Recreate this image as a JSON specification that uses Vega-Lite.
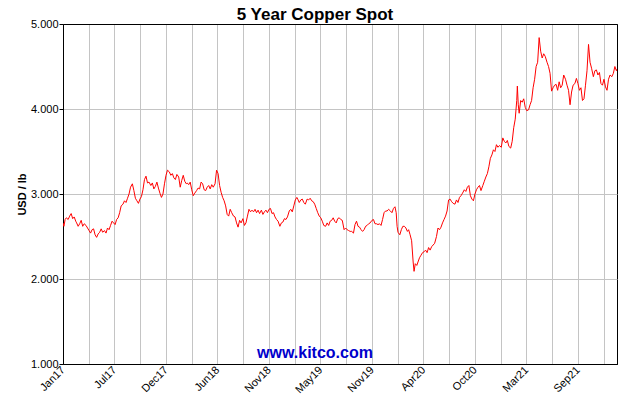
{
  "$schema": "https://vega.github.io/schema/vega-lite/v6.json",
  "width": 554,
  "height": 340,
  "autosize": "none",
  "padding": {"left": 63, "top": 24, "right": 13, "bottom": 36},
  "background": "white",
  "config": {"font": "Liberation Sans", "view": {"stroke": "black", "strokeWidth": 1}},
  "title": {"text": "5 Year Copper Spot", "font": "Liberation Sans", "fontSize": 17, "fontWeight": "bold", "anchor": "middle", "frame": "group", "dx": -25, "dy": 12, "offset": 6, "color": "black"},
  "encoding": {
    "x": {"field": "d", "type": "temporal",
      "scale": {"type": "utc", "domain": [1484611200000, 1642636800000]},
      "axis": {"title": null,
        "values": [1484611200000,1491955200000,1499299200000,1506643200000,1513987200000,1521331200000,1528675200000,1536019200000,1543363200000,1550707200000,1558051200000,1565395200000,1572739200000,1580083200000,1587427200000,1594771200000,1602115200000,1609459200000,1616803200000,1624147200000,1631491200000,1638835200000],
        "labelExpr": "(datum.value - 1484611200000) % 14688000000 == 0 ? utcFormat(datum.value, '%b%y') : ''",
        "labelAngle": -45, "labelAlign": "right", "labelBaseline": "middle",
        "grid": true,
        "gridColor": {"condition": {"test": "datum.value == 1484611200000", "value": "black"}, "value": "#c4c4c4"},
        "ticks": false, "domain": true, "domainColor": "black",
        "labelFont": "Liberation Sans", "labelFontSize": 11, "labelColor": "black", "labelPadding": 4,
        "labelOverlap": false, "labelFlush": false, "labelBound": false}},
    "y": {"field": "p", "type": "quantitative",
      "scale": {"domain": [1, 5], "nice": false, "zero": false},
      "axis": {"title": "USD / lb", "values": [1,2,3,4,5], "format": ".3f",
        "grid": true,
        "gridColor": {"condition": {"test": "datum.value == 1 || datum.value == 5", "value": "black"}, "value": "#c4c4c4"},
        "domain": true, "domainColor": "black", "tickColor": "black", "tickSize": 4,
        "labelFont": "Liberation Sans", "labelFontSize": 11, "labelColor": "black", "labelPadding": 1,
        "titleFont": "Liberation Sans", "titleFontSize": 11, "titleFontWeight": "bold", "titleColor": "black", "titlePadding": 3}}
  },
  "layer": [
    {
      "data": {"values": [
{"d":"2017-01-17","p":2.66},{"d":"2017-01-20","p":2.62},{"d":"2017-01-24","p":2.70},{"d":"2017-01-28","p":2.72},
{"d":"2017-02-03","p":2.70},{"d":"2017-02-08","p":2.74},{"d":"2017-02-13","p":2.77},{"d":"2017-02-18","p":2.71},{"d":"2017-02-23","p":2.73},{"d":"2017-02-28","p":2.68},
{"d":"2017-03-03","p":2.66},{"d":"2017-03-08","p":2.62},{"d":"2017-03-13","p":2.65},{"d":"2017-03-18","p":2.69},{"d":"2017-03-23","p":2.62},{"d":"2017-03-28","p":2.65},
{"d":"2017-04-03","p":2.63},{"d":"2017-04-08","p":2.60},{"d":"2017-04-13","p":2.57},{"d":"2017-04-18","p":2.54},{"d":"2017-04-23","p":2.58},{"d":"2017-04-28","p":2.59},
{"d":"2017-05-03","p":2.52},{"d":"2017-05-08","p":2.49},{"d":"2017-05-13","p":2.53},{"d":"2017-05-18","p":2.55},{"d":"2017-05-23","p":2.59},{"d":"2017-05-28","p":2.55},
{"d":"2017-06-03","p":2.57},{"d":"2017-06-08","p":2.54},{"d":"2017-06-13","p":2.60},{"d":"2017-06-18","p":2.58},{"d":"2017-06-23","p":2.63},{"d":"2017-06-28","p":2.68},
{"d":"2017-07-03","p":2.66},{"d":"2017-07-08","p":2.64},{"d":"2017-07-13","p":2.70},{"d":"2017-07-18","p":2.72},{"d":"2017-07-23","p":2.78},{"d":"2017-07-28","p":2.86},
{"d":"2017-08-03","p":2.88},{"d":"2017-08-08","p":2.92},{"d":"2017-08-13","p":2.90},{"d":"2017-08-18","p":2.95},{"d":"2017-08-23","p":3.00},{"d":"2017-08-28","p":3.08},
{"d":"2017-09-03","p":3.12},{"d":"2017-09-08","p":3.04},{"d":"2017-09-13","p":2.95},{"d":"2017-09-18","p":2.92},{"d":"2017-09-23","p":2.89},{"d":"2017-09-28","p":2.94},
{"d":"2017-10-03","p":2.97},{"d":"2017-10-08","p":3.05},{"d":"2017-10-13","p":3.17},{"d":"2017-10-18","p":3.21},{"d":"2017-10-23","p":3.13},{"d":"2017-10-28","p":3.14},
{"d":"2017-11-03","p":3.10},{"d":"2017-11-08","p":3.13},{"d":"2017-11-13","p":3.06},{"d":"2017-11-18","p":3.09},{"d":"2017-11-23","p":3.14},{"d":"2017-11-28","p":3.07},
{"d":"2017-12-03","p":3.01},{"d":"2017-12-08","p":2.96},{"d":"2017-12-13","p":3.00},{"d":"2017-12-18","p":3.12},{"d":"2017-12-23","p":3.22},{"d":"2017-12-28","p":3.28},
{"d":"2018-01-03","p":3.26},{"d":"2018-01-08","p":3.22},{"d":"2018-01-13","p":3.24},{"d":"2018-01-18","p":3.19},{"d":"2018-01-23","p":3.17},{"d":"2018-01-28","p":3.23},
{"d":"2018-02-03","p":3.20},{"d":"2018-02-08","p":3.08},{"d":"2018-02-13","p":3.16},{"d":"2018-02-18","p":3.22},{"d":"2018-02-23","p":3.15},{"d":"2018-02-28","p":3.12},
{"d":"2018-03-03","p":3.13},{"d":"2018-03-08","p":3.11},{"d":"2018-03-13","p":3.14},{"d":"2018-03-18","p":3.05},{"d":"2018-03-23","p":2.98},{"d":"2018-03-28","p":3.01},
{"d":"2018-04-03","p":3.04},{"d":"2018-04-08","p":3.07},{"d":"2018-04-13","p":3.06},{"d":"2018-04-18","p":3.14},{"d":"2018-04-23","p":3.12},{"d":"2018-04-28","p":3.05},
{"d":"2018-05-03","p":3.04},{"d":"2018-05-08","p":3.08},{"d":"2018-05-13","p":3.10},{"d":"2018-05-18","p":3.06},{"d":"2018-05-23","p":3.11},{"d":"2018-05-28","p":3.08},
{"d":"2018-06-03","p":3.12},{"d":"2018-06-08","p":3.28},{"d":"2018-06-13","p":3.24},{"d":"2018-06-18","p":3.10},{"d":"2018-06-23","p":3.02},{"d":"2018-06-28","p":2.96},
{"d":"2018-07-03","p":2.92},{"d":"2018-07-08","p":2.86},{"d":"2018-07-13","p":2.76},{"d":"2018-07-18","p":2.74},{"d":"2018-07-23","p":2.82},{"d":"2018-07-28","p":2.78},
{"d":"2018-08-03","p":2.74},{"d":"2018-08-08","p":2.73},{"d":"2018-08-13","p":2.66},{"d":"2018-08-18","p":2.61},{"d":"2018-08-23","p":2.69},{"d":"2018-08-28","p":2.66},
{"d":"2018-09-03","p":2.71},{"d":"2018-09-08","p":2.63},{"d":"2018-09-13","p":2.66},{"d":"2018-09-18","p":2.74},{"d":"2018-09-23","p":2.82},{"d":"2018-09-28","p":2.79},
{"d":"2018-10-03","p":2.81},{"d":"2018-10-08","p":2.79},{"d":"2018-10-13","p":2.82},{"d":"2018-10-18","p":2.78},{"d":"2018-10-23","p":2.81},{"d":"2018-10-28","p":2.77},
{"d":"2018-11-03","p":2.81},{"d":"2018-11-08","p":2.76},{"d":"2018-11-13","p":2.79},{"d":"2018-11-18","p":2.81},{"d":"2018-11-23","p":2.78},{"d":"2018-11-28","p":2.82},
{"d":"2018-12-03","p":2.83},{"d":"2018-12-08","p":2.77},{"d":"2018-12-13","p":2.78},{"d":"2018-12-18","p":2.73},{"d":"2018-12-23","p":2.70},{"d":"2018-12-28","p":2.68},
{"d":"2019-01-03","p":2.62},{"d":"2019-01-08","p":2.66},{"d":"2019-01-13","p":2.67},{"d":"2019-01-18","p":2.71},{"d":"2019-01-23","p":2.70},{"d":"2019-01-28","p":2.73},
{"d":"2019-02-03","p":2.80},{"d":"2019-02-08","p":2.82},{"d":"2019-02-13","p":2.79},{"d":"2019-02-18","p":2.86},{"d":"2019-02-23","p":2.93},{"d":"2019-02-28","p":2.96},
{"d":"2019-03-03","p":2.94},{"d":"2019-03-08","p":2.90},{"d":"2019-03-13","p":2.93},{"d":"2019-03-18","p":2.94},{"d":"2019-03-23","p":2.90},{"d":"2019-03-28","p":2.88},
{"d":"2019-04-03","p":2.94},{"d":"2019-04-08","p":2.93},{"d":"2019-04-13","p":2.95},{"d":"2019-04-18","p":2.92},{"d":"2019-04-23","p":2.91},{"d":"2019-04-28","p":2.88},
{"d":"2019-05-03","p":2.83},{"d":"2019-05-08","p":2.78},{"d":"2019-05-13","p":2.74},{"d":"2019-05-18","p":2.72},{"d":"2019-05-23","p":2.68},{"d":"2019-05-28","p":2.63},
{"d":"2019-06-03","p":2.62},{"d":"2019-06-08","p":2.66},{"d":"2019-06-13","p":2.63},{"d":"2019-06-18","p":2.68},{"d":"2019-06-23","p":2.69},{"d":"2019-06-28","p":2.72},
{"d":"2019-07-03","p":2.68},{"d":"2019-07-08","p":2.66},{"d":"2019-07-13","p":2.71},{"d":"2019-07-18","p":2.72},{"d":"2019-07-23","p":2.70},{"d":"2019-07-28","p":2.69},
{"d":"2019-08-03","p":2.58},{"d":"2019-08-08","p":2.60},{"d":"2019-08-13","p":2.58},{"d":"2019-08-18","p":2.57},{"d":"2019-08-23","p":2.56},{"d":"2019-08-28","p":2.56},
{"d":"2019-09-03","p":2.54},{"d":"2019-09-08","p":2.64},{"d":"2019-09-13","p":2.68},{"d":"2019-09-18","p":2.62},{"d":"2019-09-23","p":2.61},{"d":"2019-09-28","p":2.58},
{"d":"2019-10-03","p":2.56},{"d":"2019-10-08","p":2.58},{"d":"2019-10-13","p":2.62},{"d":"2019-10-18","p":2.63},{"d":"2019-10-23","p":2.65},{"d":"2019-10-28","p":2.66},
{"d":"2019-11-03","p":2.69},{"d":"2019-11-08","p":2.70},{"d":"2019-11-13","p":2.65},{"d":"2019-11-18","p":2.65},{"d":"2019-11-23","p":2.64},{"d":"2019-11-28","p":2.65},
{"d":"2019-12-03","p":2.63},{"d":"2019-12-08","p":2.70},{"d":"2019-12-13","p":2.78},{"d":"2019-12-18","p":2.80},{"d":"2019-12-23","p":2.80},{"d":"2019-12-28","p":2.82},
{"d":"2020-01-03","p":2.80},{"d":"2020-01-08","p":2.78},{"d":"2020-01-13","p":2.83},{"d":"2020-01-18","p":2.85},{"d":"2020-01-22","p":2.78},{"d":"2020-01-25","p":2.62},{"d":"2020-01-28","p":2.55},
{"d":"2020-02-03","p":2.52},{"d":"2020-02-08","p":2.58},{"d":"2020-02-13","p":2.62},{"d":"2020-02-18","p":2.62},{"d":"2020-02-23","p":2.60},{"d":"2020-02-28","p":2.56},
{"d":"2020-03-03","p":2.58},{"d":"2020-03-08","p":2.52},{"d":"2020-03-13","p":2.45},{"d":"2020-03-18","p":2.20},{"d":"2020-03-21","p":2.09},{"d":"2020-03-25","p":2.18},{"d":"2020-03-30","p":2.16},
{"d":"2020-04-03","p":2.20},{"d":"2020-04-08","p":2.25},{"d":"2020-04-13","p":2.28},{"d":"2020-04-18","p":2.31},{"d":"2020-04-23","p":2.32},{"d":"2020-04-28","p":2.34},
{"d":"2020-05-03","p":2.31},{"d":"2020-05-08","p":2.37},{"d":"2020-05-13","p":2.34},{"d":"2020-05-18","p":2.38},{"d":"2020-05-23","p":2.40},{"d":"2020-05-28","p":2.42},
{"d":"2020-06-03","p":2.50},{"d":"2020-06-08","p":2.60},{"d":"2020-06-13","p":2.58},{"d":"2020-06-18","p":2.61},{"d":"2020-06-23","p":2.66},{"d":"2020-06-28","p":2.70},
{"d":"2020-07-03","p":2.74},{"d":"2020-07-08","p":2.80},{"d":"2020-07-13","p":2.93},{"d":"2020-07-18","p":2.94},{"d":"2020-07-23","p":2.91},{"d":"2020-07-28","p":2.89},
{"d":"2020-08-03","p":2.88},{"d":"2020-08-08","p":2.93},{"d":"2020-08-13","p":2.90},{"d":"2020-08-18","p":2.96},{"d":"2020-08-23","p":2.98},{"d":"2020-08-28","p":3.01},
{"d":"2020-09-03","p":3.05},{"d":"2020-09-08","p":3.03},{"d":"2020-09-13","p":3.08},{"d":"2020-09-18","p":3.10},{"d":"2020-09-23","p":2.98},{"d":"2020-09-28","p":2.94},
{"d":"2020-10-03","p":2.92},{"d":"2020-10-08","p":3.00},{"d":"2020-10-13","p":3.05},{"d":"2020-10-18","p":3.08},{"d":"2020-10-23","p":3.10},{"d":"2020-10-28","p":3.04},
{"d":"2020-11-03","p":3.10},{"d":"2020-11-08","p":3.15},{"d":"2020-11-13","p":3.20},{"d":"2020-11-18","p":3.24},{"d":"2020-11-23","p":3.32},{"d":"2020-11-28","p":3.42},
{"d":"2020-12-03","p":3.46},{"d":"2020-12-08","p":3.52},{"d":"2020-12-13","p":3.50},{"d":"2020-12-18","p":3.58},{"d":"2020-12-23","p":3.55},{"d":"2020-12-28","p":3.57},
{"d":"2021-01-03","p":3.55},{"d":"2021-01-08","p":3.66},{"d":"2021-01-13","p":3.62},{"d":"2021-01-18","p":3.60},{"d":"2021-01-23","p":3.63},{"d":"2021-01-28","p":3.56},
{"d":"2021-02-03","p":3.54},{"d":"2021-02-08","p":3.62},{"d":"2021-02-13","p":3.78},{"d":"2021-02-18","p":3.88},{"d":"2021-02-23","p":4.10},{"d":"2021-02-25","p":4.27},{"d":"2021-02-28","p":4.05},
{"d":"2021-03-03","p":3.95},{"d":"2021-03-08","p":4.10},{"d":"2021-03-13","p":4.08},{"d":"2021-03-18","p":4.12},{"d":"2021-03-23","p":4.02},{"d":"2021-03-28","p":3.98},
{"d":"2021-04-03","p":3.99},{"d":"2021-04-08","p":4.05},{"d":"2021-04-13","p":4.10},{"d":"2021-04-18","p":4.25},{"d":"2021-04-23","p":4.35},{"d":"2021-04-28","p":4.50},
{"d":"2021-05-03","p":4.55},{"d":"2021-05-08","p":4.84},{"d":"2021-05-13","p":4.68},{"d":"2021-05-18","p":4.60},{"d":"2021-05-23","p":4.65},{"d":"2021-05-28","p":4.62},
{"d":"2021-06-03","p":4.55},{"d":"2021-06-08","p":4.50},{"d":"2021-06-13","p":4.42},{"d":"2021-06-18","p":4.21},{"d":"2021-06-23","p":4.25},{"d":"2021-06-28","p":4.28},
{"d":"2021-07-03","p":4.29},{"d":"2021-07-08","p":4.22},{"d":"2021-07-13","p":4.32},{"d":"2021-07-18","p":4.25},{"d":"2021-07-23","p":4.28},{"d":"2021-07-28","p":4.40},
{"d":"2021-08-03","p":4.35},{"d":"2021-08-08","p":4.28},{"d":"2021-08-13","p":4.22},{"d":"2021-08-18","p":4.05},{"d":"2021-08-23","p":4.20},{"d":"2021-08-28","p":4.28},
{"d":"2021-09-03","p":4.30},{"d":"2021-09-08","p":4.36},{"d":"2021-09-13","p":4.30},{"d":"2021-09-18","p":4.22},{"d":"2021-09-23","p":4.25},{"d":"2021-09-28","p":4.10},
{"d":"2021-10-03","p":4.12},{"d":"2021-10-08","p":4.28},{"d":"2021-10-13","p":4.45},{"d":"2021-10-18","p":4.76},{"d":"2021-10-23","p":4.55},{"d":"2021-10-28","p":4.48},
{"d":"2021-11-03","p":4.38},{"d":"2021-11-08","p":4.45},{"d":"2021-11-13","p":4.46},{"d":"2021-11-18","p":4.40},{"d":"2021-11-23","p":4.43},{"d":"2021-11-28","p":4.30},
{"d":"2021-12-03","p":4.28},{"d":"2021-12-08","p":4.35},{"d":"2021-12-13","p":4.26},{"d":"2021-12-18","p":4.22},{"d":"2021-12-23","p":4.35},{"d":"2021-12-28","p":4.40},
{"d":"2022-01-03","p":4.38},{"d":"2022-01-08","p":4.42},{"d":"2022-01-13","p":4.50},{"d":"2022-01-18","p":4.45},{"d":"2022-01-20","p":4.47}
      ]},
      "mark": {"type": "line", "color": "#ff0000", "strokeWidth": 1, "clip": true}
    },
    {
      "data": {"values": [{"label": "www.kitco.com", "d": "2019-04-29", "p": 1.068}]},
      "mark": {"type": "text", "font": "Liberation Sans", "fontSize": 16, "fontWeight": "bold", "color": "#0000cc", "align": "center", "baseline": "alphabetic"},
      "encoding": {"text": {"field": "label"}}
    }
  ]
}
